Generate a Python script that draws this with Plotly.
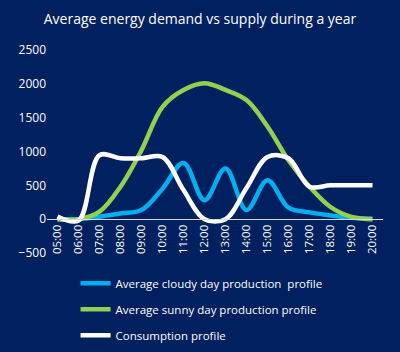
import plotly.graph_objects as go

hours = ["05:00","06:00","07:00","08:00","09:00","10:00","11:00","12:00",
         "13:00","14:00","15:00","16:00","17:00","18:00","19:00","20:00"]
cloudy = [0, 0, 35, 85, 135, 450, 830, 280, 750, 135, 575, 170, 100, 55, 20, 5]
sunny = [0, 0, 110, 480, 1020, 1660, 1910, 2010, 1910, 1760, 1370, 870, 480, 180, 35, 0]
consumption = [40, -20, 945, 900, 900, 920, 430, 0, 0, 460, 920, 900, 480, 500, 500, 500]

names = ["Average cloudy day production  profile",
         "Average sunny day production profile",
         "Consumption profile"]
colors = ["#00B0F0", "#92D050", "#FFFFFF"]
series = [cloudy, sunny, consumption]

y_min, y_max = -500, 2500

bg = "#002060"
fig = go.Figure()
for i, (nm, col, vals) in enumerate(zip(names, colors, series)):
    fig.add_trace(go.Scatter(x=hours, y=vals, name=nm, mode="lines",
                             line=dict(color=col, width=4.5, shape="spline", smoothing=1),
                             legendgroup=str(i)))

fig.update_layout(
    width=400, height=352,
    paper_bgcolor=bg, plot_bgcolor=bg,
    margin=dict(l=47, r=17, t=50, b=99, autoexpand=False),
    font=dict(family="Open Sans, sans-serif", color="white", size=12),
    title=dict(text="Average energy demand vs supply during a year",
               x=0.5, xanchor="center", y=0.945, yanchor="middle",
               font=dict(size=14, color="white")),
    showlegend=True,
    legend=dict(orientation="v", x=0.085, xanchor="left", y=-0.077, yanchor="top",
                bgcolor="rgba(0,0,0,0)", font=dict(size=11.5, color="white"),
                traceorder="grouped", tracegroupgap=7, itemwidth=30),
    xaxis=dict(type="category", range=[-0.5, 15.5], tickangle=-90, showgrid=False,
               zeroline=False, showline=True, linecolor="#D9D9D9", linewidth=1,
               ticks="", automargin=False, anchor="free",
               position=(0 - y_min) / (y_max - y_min),
               tickfont=dict(size=11.5, color="white")),
    yaxis=dict(range=[y_min, y_max], dtick=500, showgrid=False, zeroline=False,
               showline=False, ticks="", automargin=False,
               tickfont=dict(size=12, color="white")),
)
fig.write_html("out.html")
